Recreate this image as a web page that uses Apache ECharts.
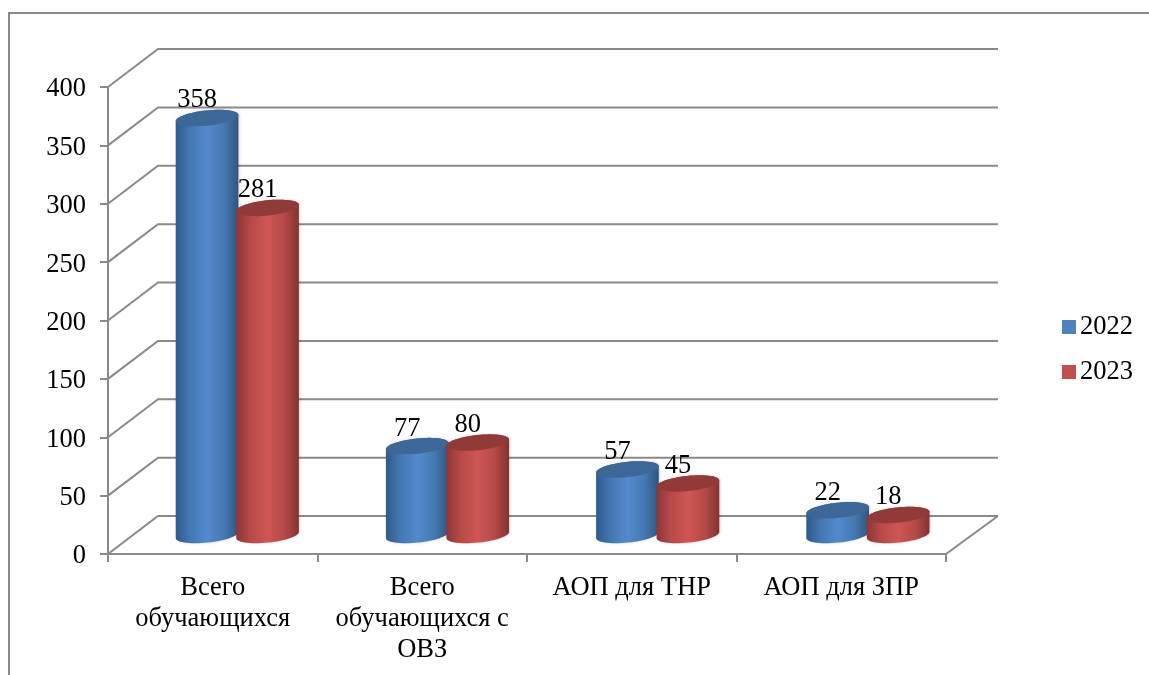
<!DOCTYPE html>
<html><head><meta charset="utf-8">
<style>html,body{margin:0;padding:0;background:#fff}#c{width:1149px;height:675px}</style>
<script src="https://cdn.jsdelivr.net/npm/echarts@6/dist/echarts.min.js"></script>
</head><body><div id="c"></div>
<script>
const categories = ['Всего\nобучающихся', 'Всего\nобучающихся с\nОВЗ', 'АОП для ТНР', 'АОП для ЗПР'];
const values2022 = [358, 77, 57, 22];
const values2023 = [281, 80, 45, 18];
const yTicks = [0, 50, 100, 150, 200, 250, 300, 350, 400];

const FONT = '"Liberation Serif","Times New Roman",serif';
const FONT_SIZE = 26.5;
const GREY = '#8a8a8a';
const DEPTH_X = 50, DEPTH_Y = 38;
const RX = 31.5, RY = 7.6, TILT = -6 * Math.PI / 180;
const BAND_DRIFT = 0.7; // the reference's columns sit on a slightly wider pitch than its ticks

function ellipsePoints(cx, cy, from, to, n) {
  const pts = [];
  for (let i = 0; i <= n; i++) {
    const t = from + (to - from) * i / n;
    const x = RX * Math.cos(t), y = RY * Math.sin(t);
    pts.push([cx + x * Math.cos(TILT) - y * Math.sin(TILT), cy + x * Math.sin(TILT) + y * Math.cos(TILT)]);
  }
  return pts;
}

function wallItem(params, api) {
  const val = api.value(0);
  const g = params.coordSys;
  const y = api.coord([0, val])[1];
  const children = [{
    type: 'polyline',
    shape: { points: [[g.x, y], [g.x + DEPTH_X, y - DEPTH_Y], [g.x + g.width + DEPTH_X + 2, y - DEPTH_Y]] },
    style: { fill: null, stroke: GREY, lineWidth: 2 }
  }];
  if (val === 0) {
    children.push({
      type: 'line',
      shape: { x1: g.x + g.width, y1: y, x2: g.x + g.width + DEPTH_X + 2, y2: y - DEPTH_Y },
      style: { stroke: GREY, lineWidth: 2 }
    });
  }
  return { type: 'group', children };
}

function cylinderRenderer(shiftX, stops, topColor) {
  return function (params, api) {
    const idx = api.value(0), val = api.value(1);
    const p = api.coord([idx, val]);
    const p0 = api.coord([idx, 0]);
    const cx = p[0] + shiftX + idx * BAND_DRIFT, topY = p[1] - 18, botY = p0[1] - 19;
    const bottomArc = ellipsePoints(cx, botY, 0, Math.PI, 30);
    const topArc = ellipsePoints(cx, topY, Math.PI, 2 * Math.PI, 30);
    return {
      type: 'group',
      children: [{
        type: 'polygon',
        shape: { points: bottomArc.concat(topArc) },
        style: {
          fill: new echarts.graphic.LinearGradient(0, 0, 1, 0, stops),
          shadowBlur: 3, shadowColor: 'rgba(0,0,0,0.18)', shadowOffsetX: 1
        }
      }, {
        type: 'polygon',
        shape: { points: ellipsePoints(cx, topY, 0, 2 * Math.PI, 60) },
        style: { fill: topColor }
      }, {
        type: 'text',
        style: {
          x: cx - 10, y: topY - 17.5, text: String(val),
          font: FONT_SIZE + 'px ' + FONT, fill: '#000', align: 'center', verticalAlign: 'middle'
        }
      }]
    };
  };
}

const blueStops = [
  { offset: 0, color: '#2f5a8c' }, { offset: 0.22, color: '#4476b1' }, { offset: 0.5, color: '#5489cf' },
  { offset: 0.78, color: '#4577b0' }, { offset: 1, color: '#2e5681' }
];
const redStops = [
  { offset: 0, color: '#8e3634' }, { offset: 0.22, color: '#b54a48' }, { offset: 0.5, color: '#cf5654' },
  { offset: 0.78, color: '#b34947' }, { offset: 1, color: '#843230' }
];

const chart = echarts.init(document.getElementById('c'), null, { renderer: 'canvas' });
chart.setOption({
  animation: false,
  backgroundColor: '#fff',
  textStyle: { fontFamily: FONT },
  graphic: [{
    type: 'polyline', silent: true,
    shape: { points: [[9, 675], [9, 13], [1149, 13]] },
    style: { fill: null, stroke: GREY, lineWidth: 2 }
  }],
  grid: { left: 108, top: 87, width: 838, height: 467 },
  legend: {
    data: ['2022', '2023'], orient: 'vertical', left: 1062, top: 312, padding: 0,
    itemWidth: 14, itemHeight: 14, itemGap: 15, icon: 'rect',
    textStyle: { fontFamily: FONT, fontSize: FONT_SIZE, color: '#000', lineHeight: 30, padding: [0, 0, 0, -1] }
  },
  xAxis: {
    type: 'category', data: categories,
    axisLine: { lineStyle: { color: GREY, width: 2 } },
    axisTick: { show: true, length: 8, lineStyle: { color: GREY, width: 2 } },
    axisLabel: { interval: 0, color: '#000', fontFamily: FONT, fontSize: FONT_SIZE, lineHeight: 31, margin: 19, verticalAlign: 'top' }
  },
  yAxis: {
    type: 'value', min: 0, max: 400, interval: 50,
    axisLine: { show: true, lineStyle: { color: GREY, width: 2 } },
    axisTick: { show: true, length: 8, lineStyle: { color: GREY, width: 2 } },
    axisLabel: {
      margin: 22, formatter: '{t|{value}}',
      rich: { t: { color: '#000', fontFamily: FONT, fontSize: FONT_SIZE, padding: [5, 0, 0, 0] } }
    },
    splitLine: { show: false }
  },
  series: [{
    type: 'custom', name: 'walls', silent: true, z: 1,
    data: yTicks.map(v => [v]), encode: { y: 0 }, renderItem: wallItem
  }, {
    type: 'custom', name: '2022', z: 2, itemStyle: { color: '#4f81bd' },
    data: values2022.map((v, i) => [i, v]), encode: { x: 0, y: 1 },
    renderItem: cylinderRenderer(-5.7, blueStops, '#3d6796')
  }, {
    type: 'custom', name: '2023', z: 3, itemStyle: { color: '#c0504d' },
    data: values2023.map((v, i) => [i, v]), encode: { x: 0, y: 1 },
    renderItem: cylinderRenderer(54.8, redStops, '#923a38')
  }]
});
</script></body></html>
